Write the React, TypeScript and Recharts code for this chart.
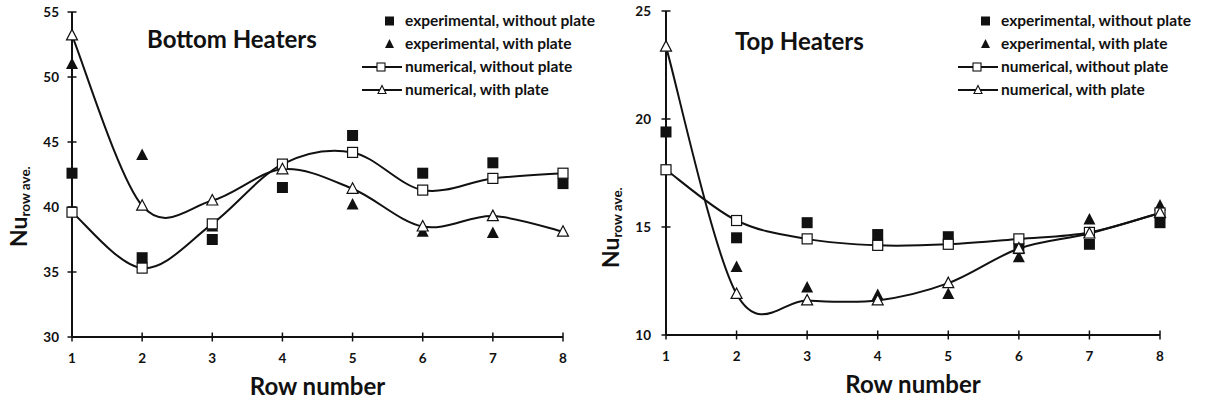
import { ComposedChart, Line, Scatter, XAxis, YAxis, Legend } from 'recharts'

const rows = [1, 2, 3, 4, 5, 6, 7, 8]

// bottom heaters
const bottomExpWithout = [42.6, 36.1, 37.5, 41.5, 45.5, 42.6, 43.4, 41.8]
const bottomExpWith = [51.0, 44.0, 38.5, null, 40.2, 38.1, 38.0, null]
const bottomNumWithout = [39.6, 35.3, 38.7, 43.3, 44.2, 41.3, 42.2, 42.6]
const bottomNumWith = [53.2, 40.1, 40.5, 42.9, 41.4, 38.5, 39.3, 38.1]
const bottomTicks = [30, 35, 40, 45, 50, 55]

// top heaters
const topExpWithout = [19.4, 14.5, 15.2, 14.65, 14.55, 14.0, 14.2, 15.2]
const topExpWith = [null, 13.15, 12.2, 11.85, 11.9, 13.6, 15.35, 16.0]
const topNumWithout = [17.65, 15.3, 14.45, 14.15, 14.2, 14.45, 14.75, 15.65]
const topNumWith = [23.35, 11.9, 11.6, 11.6, 12.4, 14.0, 14.7, 15.65]
const topTicks = [10, 15, 20, 25]

const legendItems = [
  { label: 'experimental, without plate', kind: 'expSquare' },
  { label: 'experimental, with plate', kind: 'expTriangle' },
  { label: 'numerical, without plate', kind: 'numSquare' },
  { label: 'numerical, with plate', kind: 'numTriangle' },
]

const FONT = 'Lato, "Open Sans", sans-serif'
const INK = '#111'

type Num = number | null

const makeData = (a: Num[], b: Num[], c: Num[], d: Num[]) =>
  rows.map((row, i) => ({ row, expWithout: a[i], expWith: b[i], numWithout: c[i], numWith: d[i] }))

// excel-style smoothed line (catmull-rom through the points)
function excelCurve(context: any) {
  let pts: number[][] = []
  return {
    areaStart() {},
    areaEnd() {},
    lineStart() {
      pts = []
    },
    point(x: number, y: number) {
      pts.push([+x, +y])
    },
    lineEnd() {
      if (!pts.length) return
      context.moveTo(pts[0][0], pts[0][1])
      for (let i = 0; i < pts.length - 1; i++) {
        const p0 = pts[i - 1] || pts[i]
        const p1 = pts[i]
        const p2 = pts[i + 1]
        const p3 = pts[i + 2] || p2
        context.bezierCurveTo(
          p1[0] + (p2[0] - p0[0]) / 6,
          p1[1] + (p2[1] - p0[1]) / 6,
          p2[0] - (p3[0] - p1[0]) / 6,
          p2[1] - (p3[1] - p1[1]) / 6,
          p2[0],
          p2[1],
        )
      }
    },
  }
}

const FilledSquare = ({ cx, cy }: any) => <rect x={cx - 5.5} y={cy - 5.5} width={11} height={11} fill={INK} />
const FilledTriangle = ({ cx, cy }: any) => (
  <polygon points={`${cx},${cy - 6.5} ${cx + 6},${cy + 5} ${cx - 6},${cy + 5}`} fill={INK} />
)
const OpenSquare = ({ cx, cy }: any) => (
  <rect x={cx - 5} y={cy - 5} width={10} height={10} fill="#fff" stroke={INK} strokeWidth={1.2} />
)
const OpenTriangle = ({ cx, cy }: any) => (
  <polygon
    points={`${cx},${cy - 6} ${cx + 5.5},${cy + 4.5} ${cx - 5.5},${cy + 4.5}`}
    fill="#fff"
    stroke={INK}
    strokeWidth={1.2}
  />
)

function LegendBox() {
  return (
    <svg width={250} height={100} style={{ display: 'block' }}>
      {legendItems.map((it, i) => {
        const y = 11 + i * 23
        return (
          <g key={it.label}>
            {it.kind === 'expSquare' && <rect x={23} y={y - 4.5} width={9} height={9} fill={INK} />}
            {it.kind === 'expTriangle' && (
              <polygon points={`${27.5},${y - 5} ${32},${y + 4} ${23},${y + 4}`} fill={INK} />
            )}
            {it.kind.startsWith('num') && <line x1={0} x2={40} y1={y} y2={y} stroke={INK} strokeWidth={2} />}
            {it.kind === 'numSquare' && (
              <rect x={15} y={y - 4} width={8} height={8} fill="#fff" stroke={INK} strokeWidth={1.1} />
            )}
            {it.kind === 'numTriangle' && (
              <polygon
                points={`${20},${y - 4.5} ${24},${y + 3.5} ${16},${y + 3.5}`}
                fill="#fff"
                stroke={INK}
                strokeWidth={1.1}
              />
            )}
            <text x={43} y={y} dy="0.35em" fontFamily={FONT} fontWeight={700} fontSize={15.5} fill={INK}>
              {it.label}
            </text>
          </g>
        )
      })}
    </svg>
  )
}

type PanelProps = {
  title: string
  titleX: number
  titleY: number
  data: ReturnType<typeof makeData>
  yTicks: number[]
  width: number
  margin: { top: number; right: number; bottom: number; left: number }
  yTickGap: number
  labelX: number
  labelY: number
  legendLeft: number
}

function Panel(p: PanelProps) {
  const yMin = p.yTicks[0]
  const yMax = p.yTicks[p.yTicks.length - 1]
  const xGap = 16

  const YTick = ({ x, y, payload }: any) => (
    <g>
      <line x1={x + p.yTickGap - 4.5} x2={x + p.yTickGap + 4.5} y1={y} y2={y} stroke={INK} strokeWidth={1.5} />
      <text x={x} y={y} dy="0.35em" textAnchor="end" fontFamily={FONT} fontWeight={700} fontSize={13.5} fill={INK}>
        {payload.value}
      </text>
    </g>
  )
  const XTick = ({ x, y, payload }: any) => (
    <g>
      <line x1={x} x2={x} y1={y - xGap - 4.5} y2={y - xGap + 4.5} stroke={INK} strokeWidth={1.5} />
      <text x={x} y={y} dy="0.71em" textAnchor="middle" fontFamily={FONT} fontWeight={700} fontSize={13.5} fill={INK}>
        {payload.value}
      </text>
    </g>
  )
  const YLabel = () => (
    <text
      x={p.labelX}
      y={p.labelY}
      transform={`rotate(-90, ${p.labelX}, ${p.labelY})`}
      textAnchor="start"
      fontFamily={FONT}
      fontWeight={700}
      fill={INK}
    >
      <tspan fontSize={23}>Nu</tspan>
      <tspan fontSize={13.5} dy={3}>
        row ave.
      </tspan>
    </text>
  )

  return (
    <div style={{ position: 'relative', width: p.width, height: 403 }}>
      <ComposedChart width={p.width} height={403} data={p.data} margin={p.margin}>
        <XAxis
          type="number"
          dataKey="row"
          domain={[1, 8]}
          ticks={rows}
          height={1}
          tickSize={0}
          tickMargin={xGap}
          tick={<XTick />}
          axisLine={{ stroke: INK, strokeWidth: 2 }}
          label={{
            value: 'Row number',
            position: 'bottom',
            offset: 40,
            fontFamily: FONT,
            fontWeight: 700,
            fontSize: 24,
            fill: INK,
          }}
        />
        <YAxis
          type="number"
          domain={[yMin, yMax]}
          ticks={p.yTicks}
          width={1}
          tickSize={0}
          tickMargin={p.yTickGap}
          tick={<YTick />}
          axisLine={{ stroke: INK, strokeWidth: 2 }}
          label={{ content: <YLabel /> }}
        />
        <Legend
          layout="vertical"
          align="center"
          verticalAlign="middle"
          content={() => <LegendBox />}
          wrapperStyle={{ left: p.legendLeft, top: 10, width: 250, height: 100 }}
        />
        <Line
          dataKey="numWithout"
          type={excelCurve as any}
          stroke={INK}
          strokeWidth={2}
          isAnimationActive={false}
          dot={(d: any) => <OpenSquare key={`s${d.index}`} cx={d.cx} cy={d.cy} />}
        />
        <Line
          dataKey="numWith"
          type={excelCurve as any}
          stroke={INK}
          strokeWidth={2}
          isAnimationActive={false}
          dot={(d: any) => <OpenTriangle key={`t${d.index}`} cx={d.cx} cy={d.cy} />}
        />
        <Scatter
          data={p.data.filter((d) => d.expWithout != null)}
          dataKey="expWithout"
          isAnimationActive={false}
          shape={(d: any) => <FilledSquare cx={d.cx} cy={d.cy} />}
        />
        <Scatter
          data={p.data.filter((d) => d.expWith != null)}
          dataKey="expWith"
          isAnimationActive={false}
          shape={(d: any) => <FilledTriangle cx={d.cx} cy={d.cy} />}
        />
      </ComposedChart>
      <div
        style={{
          position: 'absolute',
          left: p.titleX,
          top: p.titleY,
          fontFamily: FONT,
          fontWeight: 700,
          fontSize: 24,
          color: INK,
          whiteSpace: 'nowrap',
          lineHeight: 1,
        }}
      >
        {p.title}
      </div>
    </div>
  )
}

const bottomData = makeData(bottomExpWithout, bottomExpWith, bottomNumWithout, bottomNumWith)
const topData = makeData(topExpWithout, topExpWith, topNumWithout, topNumWith)

export default function App() {
  return (
    <div style={{ position: 'absolute', left: 0, top: 0, width: 1209, height: 403, background: '#fff', display: 'flex' }}>
      <Panel
        title="Bottom Heaters"
        titleX={147}
        titleY={27}
        data={bottomData}
        yTicks={bottomTicks}
        width={590}
        margin={{ top: 12, right: 27, bottom: 65, left: 71 }}
        yTickGap={13}
        labelX={27}
        labelY={247}
        legendLeft={362}
      />
      <Panel
        title="Top Heaters"
        titleX={145}
        titleY={29}
        data={topData}
        yTicks={topTicks}
        width={619}
        margin={{ top: 11, right: 49, bottom: 67, left: 75 }}
        yTickGap={15}
        labelX={29}
        labelY={268}
        legendLeft={368}
      />
    </div>
  )
}
